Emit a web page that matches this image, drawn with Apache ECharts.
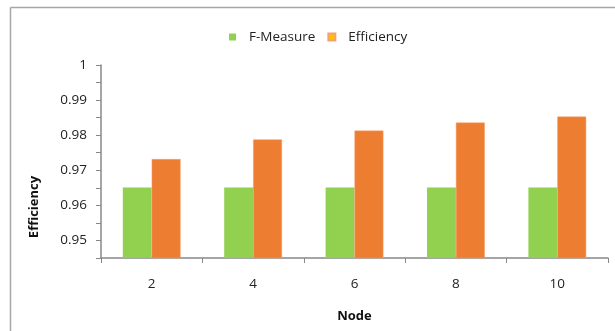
<!DOCTYPE html>
<html>
<head>
<meta charset="utf-8">
<script src="https://cdn.jsdelivr.net/npm/echarts@6/dist/echarts.min.js"></script>
<style>html,body{margin:0;padding:0;background:#fff}#c{width:615px;height:331px}</style>
</head>
<body>
<div id="c"></div>
<script>
const categories = ['2', '4', '6', '8', '10'];
const fMeasure = [0.9651, 0.9651, 0.9651, 0.9651, 0.9651];
const efficiency = [0.9732, 0.9788, 0.9813, 0.9836, 0.9853];
const yTickLabels = ['0.95', '0.96', '0.97', '0.98', '0.99', '1'];

const chart = echarts.init(document.getElementById('c'));
const font = 'Open Sans, DejaVu Sans, sans-serif';
chart.setOption({
  animation: false,
  graphic: [
    { type: 'line', shape: { x1: 10.5, y1: 7.5, x2: 615, y2: 7.5 }, style: { stroke: '#a6a6a6', lineWidth: 1.5 } },
    { type: 'line', shape: { x1: 10.5, y1: 7.5, x2: 10.5, y2: 331 }, style: { stroke: '#a6a6a6', lineWidth: 1.5 } },
    { type: 'text', x: 34, y: 207, rotation: Math.PI / 2,
      style: { text: 'Efficiency', font: 'bold 13px ' + font, fill: '#111', align: 'center', verticalAlign: 'middle' } }
  ],
  legend: {
    top: 25, left: 224,
    itemWidth: 7, itemHeight: 7, itemGap: 12,
    icon: 'rect',
    textStyle: { fontFamily: font, fontSize: 13.5, color: '#222', padding: [0, 0, 0, 8] },
    data: [
      { name: 'F-Measure', itemStyle: { color: '#92D050' } },
      { name: 'Efficiency', itemStyle: { color: '#FFC000' } }
    ]
  },
  grid: { left: 101, right: 7, top: 65, bottom: 73, containLabel: false },
  xAxis: {
    type: 'category', data: categories,
    name: 'Node', nameLocation: 'middle', nameGap: 52,
    nameTextStyle: { fontFamily: font, fontSize: 13, fontWeight: 'bold', color: '#111' },
    axisLine: { lineStyle: { color: '#888', width: 1.5 } },
    axisTick: { show: true, alignWithLabel: false, length: 5, lineStyle: { color: '#888' } },
    axisLabel: { fontFamily: font, fontSize: 13.5, color: '#222', margin: 19 }
  },
  yAxis: {
    type: 'value', min: 0.945, max: 1.0, interval: 0.005,
    axisLine: { show: true, lineStyle: { color: '#888', width: 1.5 } },
    axisTick: { show: true, length: 5, lineStyle: { color: '#888' } },
    splitLine: { show: false },
    axisLabel: {
      fontFamily: font, fontSize: 13.5, color: '#222', margin: 14,
      formatter: function (v) {
        const r = Math.round(v * 1000) / 1000;
        for (const t of yTickLabels) { if (Math.abs(parseFloat(t) - r) < 1e-6) return t; }
        return '';
      }
    }
  },
  series: [
    { name: 'F-Measure', type: 'bar', data: fMeasure, barGap: '0%', barCategoryGap: '43%',
      itemStyle: { color: '#92D050' } },
    { name: 'Efficiency', type: 'bar', data: efficiency,
      itemStyle: { color: '#ED7D31', borderColor: '#F4A070', borderWidth: 0.5 } }
  ]
});
</script>
</body>
</html>
